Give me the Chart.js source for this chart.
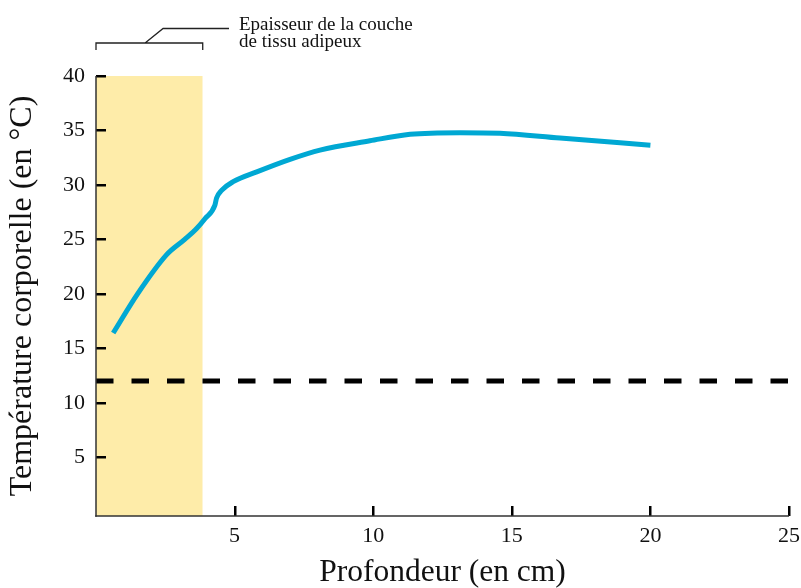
<!DOCTYPE html>
<html>
<head>
<meta charset="utf-8">
<script src="https://cdn.jsdelivr.net/npm/chart.js@4/dist/chart.umd.min.js"></script>
<style>
  body { margin: 0; background: #fff; }
</style>
</head>
<body>
<canvas id="tempChart" width="801" height="588"></canvas>
<script>
    // Body temperature vs depth
    const depthCm = [0.62, 1.5, 2.55, 3.2, 3.63, 3.93, 4.29, 4.35, 4.53, 4.95, 5.8, 7.0, 8.08, 9.88, 11.33, 13.13, 14.57, 16.74, 20.0];
    const tempC = [16.4, 20.0, 23.6, 25.0, 26.0, 26.9, 28.15, 28.8, 29.5, 30.3, 31.2, 32.35, 33.2, 34.05, 34.65, 34.8, 34.75, 34.3, 33.65];

    // Ambient (water) temperature, dashed reference line
    const ambientDepth = [0, 25];
    const ambientTemp = [12, 12];

    // Fat layer thickness (shaded band)
    const fatDepth = [0, 3.85];
    const fatTop = [40, 40];

    const xTicks = [5, 10, 15, 20, 25];
    const yTicks = [5, 10, 15, 20, 25, 30, 35, 40];

    const annotationLines = ['Epaisseur de la couche', 'de tissu adipeux'];

    const serif = "'Liberation Serif', 'Times New Roman', serif";
    const toPoints = (xs, ys) => xs.map((x, i) => ({ x: x, y: ys[i] }));

    // Inward tick marks and axis lines, drawn over the shaded band
    const tickPlugin = {
        id: 'inwardTicks',
        afterDraw(chart) {
            const ctx = chart.ctx;
            const area = chart.chartArea;
            const xs = chart.scales.x, ys = chart.scales.y;
            ctx.save();
            ctx.setLineDash([]);
            ctx.fillStyle = '#000';
            yTicks.forEach(v => {
                const y = Math.round(ys.getPixelForValue(v));
                ctx.fillRect(area.left, y - 1, 10, 2.5);
            });
            xTicks.forEach(v => {
                const x = Math.round(xs.getPixelForValue(v));
                ctx.fillRect(x - 1, area.bottom - 10, 2.5, 10);
            });
            ctx.fillStyle = '#333';
            ctx.fillRect(area.left - 0.75, area.top, 1.5, area.bottom - area.top + 0.75);
            ctx.fillRect(area.left - 0.75, area.bottom - 0.75, area.right - area.left + 0.75, 1.5);
            ctx.restore();
        }
    };

    // Bracket + label above the fat layer
    const bracketPlugin = {
        id: 'bracket',
        afterDraw(chart) {
            const ctx = chart.ctx;
            const xs = chart.scales.x;
            const x0 = xs.getPixelForValue(fatDepth[0]);
            const x1 = xs.getPixelForValue(fatDepth[1]);
            const mid = x0 + (x1 - x0) * 0.46;
            ctx.save();
            ctx.setLineDash([]);
            ctx.strokeStyle = '#222';
            ctx.lineWidth = 1.3;
            ctx.beginPath();
            ctx.moveTo(x0, 50);
            ctx.lineTo(x0, 43);
            ctx.lineTo(x1, 43);
            ctx.lineTo(x1, 50);
            ctx.moveTo(mid, 43);
            ctx.lineTo(mid + 18, 28.5);
            ctx.lineTo(229, 28.5);
            ctx.stroke();
            ctx.fillStyle = '#111';
            ctx.font = '19px ' + serif;
            ctx.textAlign = 'left';
            ctx.textBaseline = 'alphabetic';
            ctx.fillText(annotationLines[0], 239, 30);
            ctx.fillText(annotationLines[1], 239, 47);
            ctx.restore();
        }
    };

    const ctx = document.getElementById('tempChart').getContext('2d');
    new Chart(ctx, {
        type: 'line',
        data: {
            datasets: [
                {
                    label: 'Température',
                    data: toPoints(depthCm, tempC),
                    borderColor: '#00a8d3',
                    borderWidth: 5,
                    borderCapStyle: 'butt',
                    pointRadius: 0,
                    cubicInterpolationMode: 'monotone',
                    fill: false,
                    order: 1
                },
                {
                    label: 'Eau',
                    data: toPoints(ambientDepth, ambientTemp),
                    borderColor: '#000',
                    borderWidth: 5,
                    borderDash: [17.5, 18],
                    pointRadius: 0,
                    fill: false,
                    order: 2
                },
                {
                    label: 'Tissu adipeux',
                    data: toPoints(fatDepth, fatTop),
                    borderWidth: 0,
                    borderColor: 'rgba(0,0,0,0)',
                    backgroundColor: '#feeca9',
                    pointRadius: 0,
                    fill: 'start',
                    order: 3
                }
            ]
        },
        options: {
            responsive: false,
            animation: false,
            layout: { padding: { left: 0, top: 76, right: 12, bottom: 0 } },
            plugins: {
                legend: { display: false },
                tooltip: { enabled: false }
            },
            scales: {
                x: {
                    type: 'linear',
                    min: 0,
                    max: 25,
                    afterBuildTicks: scale => { scale.ticks = xTicks.map(v => ({ value: v })); },
                    afterFit: scale => { scale.height = 72; scale.paddingLeft = 0; scale.paddingRight = 0; },
                    border: { display: false },
                    grid: { display: false, drawTicks: false },
                    ticks: { color: '#111', padding: 7, maxRotation: 0, font: { family: serif, size: 22 } },
                    title: {
                        display: true,
                        text: 'Profondeur (en cm)',
                        color: '#111',
                        padding: { top: 0, bottom: 0 },
                        font: { family: serif, size: 31.5, lineHeight: 1 }
                    }
                },
                y: {
                    type: 'linear',
                    min: -0.4,
                    max: 40,
                    afterBuildTicks: scale => { scale.ticks = yTicks.map(v => ({ value: v })); },
                    afterFit: scale => { scale.width = 96; scale.paddingTop = 0; scale.paddingBottom = 0; },
                    border: { display: false },
                    grid: { display: false, drawTicks: false },
                    ticks: { color: '#111', padding: 11, font: { family: serif, size: 22 } },
                    title: {
                        display: true,
                        text: 'Température corporelle (en °C)',
                        color: '#111',
                        padding: { top: 7, bottom: 0 },
                        font: { family: serif, size: 32, lineHeight: 1 }
                    }
                }
            }
        },
        plugins: [tickPlugin, bracketPlugin]
    });
</script>
</body>
</html>
